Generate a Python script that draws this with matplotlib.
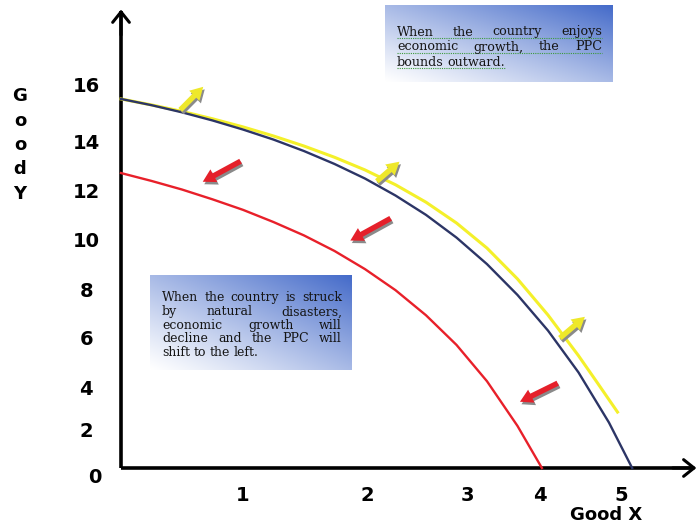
import numpy as np
import matplotlib
matplotlib.use("Agg")
import matplotlib.pyplot as plt
from matplotlib.transforms import offset_copy

# curves (in axis units)
ppc_x = [0, 0.25, 0.5, 0.75, 1.0, 1.25, 1.5, 1.75, 2.0, 2.25, 2.5, 2.75, 3.0, 3.25, 3.5, 3.75, 4.0, 4.19]
ppc_y = [15.44, 15.18, 14.88, 14.54, 14.16, 13.74, 13.26, 12.72, 12.11, 11.40, 10.59, 9.64, 8.53, 7.24,
         5.75, 4.00, 1.90, 0]

grow_x = [0, 0.25, 0.5, 0.75, 1.0, 1.25, 1.5, 1.75, 2.0, 2.25, 2.5, 2.75, 3.0, 3.25, 3.5, 3.75, 3.9, 4.07]
grow_y = [15.44, 15.19, 14.92, 14.61, 14.27, 13.89, 13.47, 13.00, 12.47, 11.85, 11.12, 10.25, 9.20, 7.91,
          6.40, 4.70, 3.60, 2.34]

shrink_x = [0, 0.25, 0.5, 0.75, 1.0, 1.25, 1.5, 1.75, 2.0, 2.25, 2.5, 2.75, 3.0, 3.25, 3.45]
shrink_y = [12.34, 12.01, 11.65, 11.24, 10.80, 10.29, 9.73, 9.08, 8.32, 7.44, 6.39, 5.15, 3.63, 1.76, 0]

# shift arrows: (tail x, tail y, head x, head y)
up_arrows = [(0.47, 14.90, 0.69, 16.03), (2.08, 11.92, 2.30, 12.89), (3.58, 5.36, 3.82, 6.40)]
down_arrows = [(1.00, 12.89, 0.65, 11.92), (2.23, 10.50, 1.86, 9.46), (3.60, 3.60, 3.25, 2.72)]

# tick labels (they are not evenly spaced in the drawing)
xtick_pos = [1.0, 2.02, 2.84, 3.43, 4.10]
xtick_lab = ["1", "2", "3", "4", "5"]
ytick_pos = [16.03, 13.64, 11.63, 9.54, 7.45, 5.44, 3.35, 1.59]
ytick_lab = ["16", "14", "12", "10", "8", "6", "4", "2"]

box1_lines = ["When the country enjoys", "economic growth, the PPC", "bounds outward."]
box2_lines = ["When the country is struck", "by natural disasters,", "economic growth will",
              "decline and the PPC will", "shift to the left."]

W, H = 699, 527
fig = plt.figure(figsize=(W / 100, H / 100), dpi=100)
ax = fig.add_axes([0, 0, 1, 1])
ax.set_xlim(-0.992, 4.738)
ax.set_ylim(-2.469, 19.58)

ax.plot(grow_x, grow_y, color="#f4f02a", lw=2.2, zorder=3, solid_joinstyle="round")
ax.plot(ppc_x, ppc_y, color="#2c3566", lw=1.7, zorder=4, solid_joinstyle="round")
ax.plot(shrink_x, shrink_y, color="#e8202a", lw=1.7, zorder=4, solid_joinstyle="round")

shadow = offset_copy(ax.transData, fig=fig, x=1.5, y=-2.5, units="dots")
style = "simple,head_length=0.7,head_width=0.8,tail_width=0.3"
for arrows, col in [(up_arrows, "#eee82a"), (down_arrows, "#e5202a")]:
    for tx, ty, hx, hy in arrows:
        ax.annotate("", xy=(hx, hy), xytext=(tx, ty), xycoords=shadow, textcoords=shadow,
                    arrowprops=dict(arrowstyle=style, color="#8a8a8a", mutation_scale=13, lw=0), zorder=5)
        ax.annotate("", xy=(hx, hy), xytext=(tx, ty),
                    arrowprops=dict(arrowstyle=style, color=col, mutation_scale=13, lw=0), zorder=6)

# axes
for s in ["top", "right"]:
    ax.spines[s].set_visible(False)
ax.spines["left"].set_position(("data", 0))
ax.spines["bottom"].set_position(("data", 0))
ax.spines["left"].set_bounds(0, 19.1)
ax.spines["bottom"].set_bounds(0, 4.70)
for s in ["left", "bottom"]:
    ax.spines[s].set_linewidth(2.6)
    ax.spines[s].set_capstyle("butt")
ax.annotate("", xy=(0, 19.3), xytext=(0, 18.0),
            arrowprops=dict(arrowstyle="->,head_length=0.75,head_width=0.6", lw=2.2, color="black"))
ax.annotate("", xy=(4.74, 0), xytext=(4.5, 0),
            arrowprops=dict(arrowstyle="->,head_length=0.75,head_width=0.6", lw=2.2, color="black"))

ax.set_xticks(xtick_pos, xtick_lab)
ax.set_yticks(ytick_pos, ytick_lab)
ax.tick_params(axis="both", length=0, labelsize=14)
ax.tick_params(axis="x", pad=13)
ax.tick_params(axis="y", pad=25)
for t in ax.get_xticklabels() + ax.get_yticklabels():
    t.set_fontweight("bold")
for t in ax.get_yticklabels():
    t.set_horizontalalignment("center")

ax.text(-0.213, -0.38, "0", fontsize=14, fontweight="bold", ha="center", va="center")
ax.text(3.98, -1.97, "Good X", fontsize=13, fontweight="bold", ha="center", va="center")
fig.text(20 / W, 1 - 145 / H, "G\no\no\nd\nY", fontsize=13, fontweight="bold",
         ha="center", va="center", linespacing=1.45, multialignment="center")


def text_box(x0, y0, x1, y1, lines, left, right, ys, fs, squiggle=False):
    w, h = x1 - x0, y1 - y0
    bax = fig.add_axes([x0 / W, 1 - y1 / H, w / W, h / H])
    u = np.linspace(0, 1, 120)[None, :]
    v = np.linspace(1, 0, 60)[:, None]
    t = np.clip((u + v) / 2, 0, 1) ** 1.1
    white = np.array([1.0, 1.0, 1.0])
    blue = np.array([0.27, 0.42, 0.79])
    img = white[None, None, :] * (1 - t[..., None]) + blue[None, None, :] * t[..., None]
    bax.imshow(img, extent=(0, w, h, 0), aspect="auto", interpolation="bilinear")
    bax.set_xlim(0, w)
    bax.set_ylim(h, 0)
    bax.axis("off")
    r = fig.canvas.get_renderer()
    for i, line in enumerate(lines):
        words = line.split()
        txts = [bax.text(0, ys[i], wd, fontsize=fs, family="DejaVu Serif", color="#151515",
                         ha="left", va="center") for wd in words]
        widths = [tt.get_window_extent(r).width for tt in txts]
        if i < len(lines) - 1 and len(words) > 1:
            gap = (right - left - sum(widths)) / (len(words) - 1)
        else:
            gap = fs * 0.4
        x = left
        for tt, wdt in zip(txts, widths):
            tt.set_x(x)
            x += wdt + gap
        if squiggle:
            bax.plot([left, x - gap], [ys[i] + 6, ys[i] + 6], color="#3c9a3c",
                     lw=0.8, ls=(0, (1, 1)))


text_box(385, 5, 612, 82, box1_lines, 12, 217, [27, 42, 57], 9.2, squiggle=True)
text_box(150, 275, 352, 370, box2_lines, 12, 192, [23, 37, 51, 64, 78], 9.0)

fig.savefig("out.png", dpi=100)
